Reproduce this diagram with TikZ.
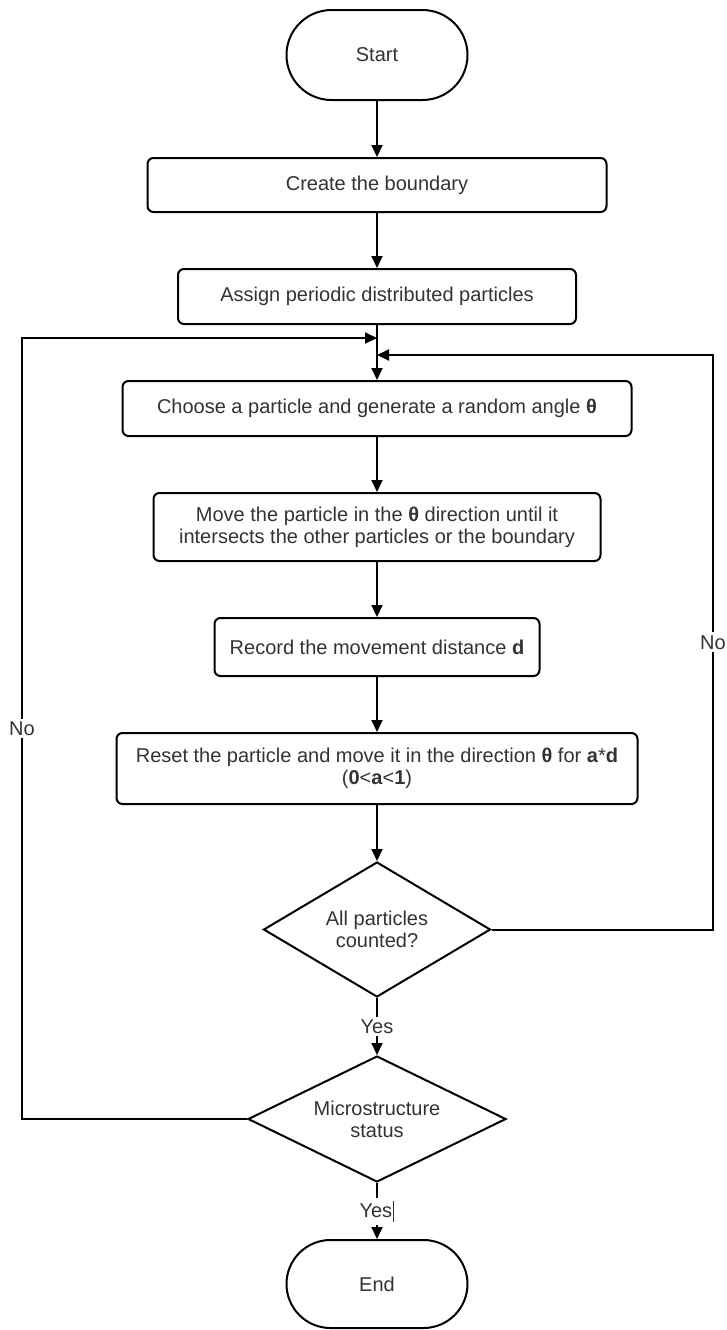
\documentclass[tikz,border=0pt]{standalone}
\usepackage{fontspec}
\setmainfont{Liberation Sans}
\usetikzlibrary{arrows.meta,shapes.geometric,shapes.misc}
\definecolor{ink}{HTML}{333333}
\begin{document}
\begin{tikzpicture}[x=0.5pt,y=-0.5pt,
  font=\fontsize{10}{11}\selectfont,
  every node/.style={text=ink},
  terminal/.style={draw=black, line width=1pt, rounded rectangle, minimum width=90.5pt, minimum height=45pt, inner sep=0pt, fill=white},
  process/.style={draw=black, line width=1pt, rounded corners=3pt, align=center, inner sep=0pt, fill=white},
  decision/.style={draw=black, line width=1pt, diamond, inner sep=0pt, fill=white},
  flow/.style={line width=1pt, draw=black, -{Triangle[length=6pt,width=5.5pt]}},
  lbl/.style={fill=white, inner sep=1.5pt}]

% page
\fill[white] (0,0) rectangle (727,1330);
\useasboundingbox (0,0) rectangle (727,1330);

% steps of the procedure
\node[terminal] (start) at (377,55) {Start};
\node[process, minimum width=229.5pt, minimum height=27pt] (bound) at (377,185) {Create the boundary};
\node[process, minimum width=199pt, minimum height=27.5pt] (assign) at (377,296.5) {Assign periodic distributed particles};
\node[process, minimum width=254.5pt, minimum height=27.5pt] (choose) at (377,408.5) {Choose a particle and generate a random angle \textbf{θ}};
\node[process, minimum width=223.5pt, minimum height=34pt] (move) at (377,527) {Move the particle in the \textbf{θ} direction until it\\intersects the other particles or the boundary};
\node[process, minimum width=162.5pt, minimum height=29pt] (record) at (377,647) {Record the movement distance \textbf{d}};
\node[process, minimum width=260.5pt, minimum height=35.5pt] (reset) at (377,768.5) {Reset the particle and move it in the direction \textbf{θ} for \textbf{a}*\textbf{d}\\(\textbf{0}<\textbf{a}<\textbf{1})};

% decisions
\node[decision, minimum width=113.5pt, minimum height=67.5pt] (counted) at (377,929.5) {};
\node[align=center] (countedtext) at (counted) {All particles\\counted?};
\node[decision, minimum width=129pt, minimum height=63pt] (micro) at (377,1119) {};
\node[align=center] (microtext) at (micro) {Microstructure\\status};

\node[terminal, minimum height=44pt] (end) at (377,1284) {End};

% loop return points
\coordinate (mergeL) at (377,338);
\coordinate (mergeR) at (377,355);
\coordinate (cornerR) at (713,355);
\coordinate (cornerL) at (22,338);

% main flow
\draw[flow] (start.south) -- (bound.north);
\draw[flow] (bound.south) -- (assign.north);
\draw[flow] (assign.south) -- (choose.north);
\draw[flow] (choose.south) -- (move.north);
\draw[flow] (move.south) -- (record.north);
\draw[flow] (record.south) -- (reset.north);
\draw[flow] (reset.south) -- (counted.north);
\draw[flow] (counted.south) -- node[lbl] {Yes} (micro.north);
\draw[flow] (micro.south) -- node[lbl] {Yes\hspace{0.6pt}\rule[-2pt]{0.5pt}{10.5pt}} (end.north);

% loops back
\draw[flow] (counted.east) -| node[lbl, pos=0.75] {No} (cornerR) -- (mergeR);
\draw[flow] (micro.west) -| node[lbl, pos=0.75] {No} (cornerL) -- (mergeL);
\end{tikzpicture}
\end{document}
